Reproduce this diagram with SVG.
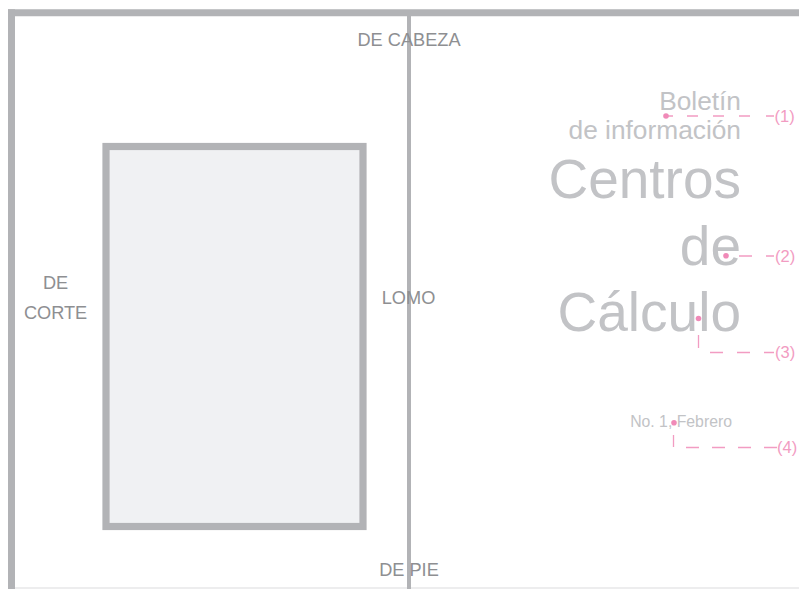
<svg xmlns="http://www.w3.org/2000/svg" width="799" height="589" viewBox="0 0 799 589">
<style>
.frame{stroke:#b2b3b6;fill:none}
.lbl{font-family:"Liberation Sans",Arial,sans-serif;font-size:18.2px;fill:#8e8f92;text-anchor:middle}
.ttl{font-family:"Liberation Sans",Arial,sans-serif;fill:#c2c3c6;text-anchor:end}
.mk{stroke:#f29cc2;stroke-width:1.3;fill:none}
.dot{fill:#f08ab8}
.num{font-family:"Liberation Sans",Arial,sans-serif;font-size:16.5px;fill:#f29cc2}
</style>
<rect width="799" height="589" fill="#ffffff"/>
<g id="page">
<line x1="8" y1="588" x2="799" y2="588" stroke="#dcdcde" stroke-width="1.2"/>
<line class="frame" x1="8" y1="12.8" x2="799" y2="12.8" stroke-width="7"/>
<line class="frame" x1="11.5" y1="9.3" x2="11.5" y2="589" stroke-width="7"/>
</g>
<g id="spine">
<line class="frame" x1="409" y1="16" x2="409" y2="589" stroke-width="4"/>
</g>
<g id="cover-box">
<rect x="106" y="146.5" width="257" height="380" fill="#f0f1f3" stroke="#b2b3b6" stroke-width="7.2"/>
</g>
<g id="labels">
<text class="lbl" x="409" y="46">DE CABEZA</text>
<text class="lbl" x="409" y="575.5">DE PIE</text>
<text class="lbl" x="55.6" y="289.3">DE</text>
<text class="lbl" x="55.6" y="319.3">CORTE</text>
<text class="lbl" x="408.5" y="304.3">LOMO</text>
</g>
<g id="title">
<text class="ttl" x="741" y="110" font-size="26.3">Boletín</text>
<text class="ttl" x="741" y="139" font-size="26.3">de información</text>
<text class="ttl" x="741" y="197.5" font-size="55">Centros</text>
<text class="ttl" x="741" y="265" font-size="55">de</text>
<text class="ttl" x="741" y="330.5" font-size="55">Cálculo</text>
<text class="ttl" x="732" y="426.5" font-size="15.8" fill="#c8c9cc">No. 1, Febrero</text>
</g>
<g id="connectors">
<line class="mk" x1="664" y1="116" x2="774" y2="116" stroke-dasharray="9 14 11 15 11 15 11 16 9"/>
<line class="mk" x1="739" y1="256" x2="774" y2="256" stroke-dasharray="13 14"/>
<line class="mk" x1="698.5" y1="335" x2="698.5" y2="348"/>
<line class="mk" x1="710" y1="352.5" x2="774" y2="352.5" stroke-dasharray="13 14"/>
<line class="mk" x1="673.5" y1="435" x2="673.5" y2="447"/>
<line class="mk" x1="686" y1="447.5" x2="777" y2="447.5" stroke-dasharray="13 13"/>
</g>
<g id="markers">
<circle class="dot" cx="666" cy="116" r="2.8"/>
<circle class="dot" cx="726" cy="255.7" r="2.8"/>
<circle class="dot" cx="698.5" cy="318.5" r="2.8"/>
<circle class="dot" cx="674" cy="422.7" r="2.8"/>
<text class="num" x="774.5" y="121.5">(1)</text>
<text class="num" x="775" y="261.5">(2)</text>
<text class="num" x="775" y="358">(3)</text>
<text class="num" x="777" y="453">(4)</text>
</g>
</svg>
